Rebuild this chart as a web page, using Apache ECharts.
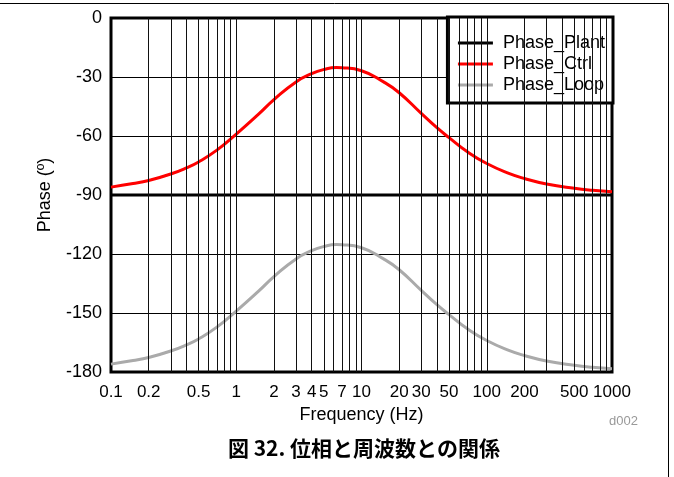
<!DOCTYPE html>
<html>
<head>
<meta charset="utf-8">
<script src="https://cdn.jsdelivr.net/npm/echarts@6/dist/echarts.min.js"></script>
<style>
  html, body { margin: 0; padding: 0; background: #fff; }
  #chart { width: 674px; height: 477px; }
</style>
</head>
<body>
<div id="chart"></div>
<script>
// frequency points (Hz)
var freqs = [0.1, 0.15, 0.2, 0.3, 0.4, 0.5, 0.7, 1, 1.5, 2, 3, 4, 5, 6.3, 7, 10, 15, 20, 30, 40, 50, 70, 100, 150, 200, 300, 500, 700, 1000];
var phaseCtrl = [-86, -84.2, -82.6, -79.3, -76.2, -73.2, -67.2, -59, -49, -41.5, -32.5, -28.3, -26.2, -25.2, -25.3, -26.8, -32.5, -38, -48.5, -55.8, -60.8, -68, -74, -79, -81.6, -84.4, -86.6, -87.6, -88.3];
var phaseLoop = [-176, -174.2, -172.6, -169.3, -166.2, -163.2, -157.2, -149, -139, -131.5, -122.5, -118.3, -116.2, -115.2, -115.3, -116.8, -122.5, -128, -138.5, -145.8, -150.8, -158, -164, -169, -171.6, -174.4, -176.6, -177.6, -178.3];
var plantFreqs = [0.1, 1000];
var phasePlant = [-90, -90];

var xLabels = [0.1, 0.2, 0.5, 1, 2, 3, 4, 5, 7, 10, 20, 30, 50, 100, 200, 500, 1000];
var xGrid = [0.2, 0.3, 0.4, 0.5, 0.6, 0.7, 0.8, 0.9, 1, 2, 3, 4, 5, 6, 7, 8, 9, 10, 20, 30, 40, 50, 60, 70, 80, 90, 100, 200, 300, 400, 500, 600, 700, 800, 900];

function pairs(xs, ys) {
  return xs.map(function (x, i) { return [x, ys[i]]; });
}

var chart = echarts.init(document.getElementById('chart'));
var font = 'Liberation Sans, Arial, sans-serif';

var option = {
  animation: false,
  textStyle: { fontFamily: font },
  grid: {
    left: 111, right: 62, top: 18, bottom: 105,
    show: true, borderColor: '#000', borderWidth: 3, backgroundColor: 'transparent'
  },
  legend: {
    orient: 'vertical',
    right: 61, top: 17,
    backgroundColor: '#fff',
    borderColor: '#000',
    borderWidth: 3,
    padding: [16, 8, 8, 9],
    itemWidth: 35,
    itemHeight: 14,
    itemGap: 1,
    itemStyle: { opacity: 0 },
    lineStyle: { width: 3 },
    formatter: ' {name}',
    textStyle: { fontSize: 18, lineHeight: 20, color: '#000', fontFamily: font },
    data: ['Phase_Plant', 'Phase_Ctrl', 'Phase_Loop']
  },
  xAxis: {
    type: 'log',
    min: 0.1, max: 1000,
    logBase: 10,
    name: 'Frequency (Hz)',
    nameLocation: 'middle',
    nameGap: 32,
    nameTextStyle: { fontSize: 18, color: '#000', fontFamily: font },
    axisLine: { show: false },
    axisTick: { show: false },
    splitLine: { show: false },
    axisLabel: {
      customValues: xLabels,
      fontSize: 17, color: '#000', margin: 12, fontFamily: font,
      formatter: function (v) { return String(+v.toPrecision(3)); }
    }
  },
  yAxis: {
    type: 'value',
    min: -180, max: 0, interval: 30,
    name: 'Phase (º)',
    nameLocation: 'middle',
    nameGap: 57,
    nameTextStyle: { fontSize: 18, color: '#000', fontFamily: font },
    axisLine: { show: false },
    axisTick: { show: false },
    splitLine: { show: true, lineStyle: { color: '#000', width: 1 } },
    axisLabel: { fontSize: 18, color: '#000', margin: 9, fontFamily: font }
  },
  series: [
    {
      name: 'grid',
      type: 'line',
      data: [],
      silent: true,
      markLine: {
        silent: true,
        symbol: 'none',
        label: { show: false },
        lineStyle: { color: '#111', width: 1, type: 'solid' },
        data: xGrid.map(function (f) { return { xAxis: f }; })
      }
    },
    {
      name: 'Phase_Plant',
      type: 'line',
      symbol: 'none',
      lineStyle: { color: '#000', width: 3 },
      itemStyle: { color: '#000' },
      data: pairs(plantFreqs, phasePlant),
      z: 3
    },
    {
      name: 'Phase_Ctrl',
      type: 'line',
      symbol: 'none',
      smooth: true,
      lineStyle: { color: '#ff0000', width: 3 },
      itemStyle: { color: '#ff0000' },
      data: pairs(freqs, phaseCtrl),
      z: 3
    },
    {
      name: 'Phase_Loop',
      type: 'line',
      symbol: 'none',
      smooth: true,
      lineStyle: { color: '#aaaaaa', width: 3 },
      itemStyle: { color: '#aaaaaa' },
      data: pairs(freqs, phaseLoop),
      z: 3
    }
  ],
  graphic: [
    {
      type: 'polyline',
      shape: { points: [[0, 3.5], [668.5, 3.5], [668.5, 477]] },
      style: { stroke: '#000', lineWidth: 1, fill: null },
      silent: true
    },
    {
      type: 'text',
      x: 638, y: 421,
      style: { text: 'd002', fill: '#999', font: '13px ' + font, textAlign: 'right', textVerticalAlign: 'middle' }
    },
    {
      type: 'text',
      x: 364, y: 448,
      style: {
        text: '図 32. 位相と周波数との関係',
        fill: '#000',
        font: 'bold 21px "Noto Sans CJK JP", sans-serif',
        textAlign: 'center',
        textVerticalAlign: 'middle'
      }
    }
  ]
};
chart.setOption(option);
</script>
</body>
</html>
